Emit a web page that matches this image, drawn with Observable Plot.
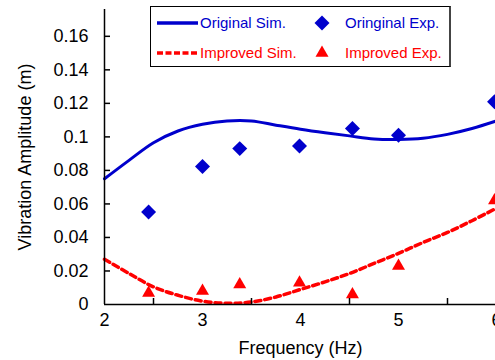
<!DOCTYPE html>
<html>
<head>
<meta charset="utf-8">
<script src="https://cdn.jsdelivr.net/npm/d3@7"></script>
<script src="https://cdn.jsdelivr.net/npm/@observablehq/plot@0.6"></script>
<style>
  html, body { margin: 0; padding: 0; background: #fff; overflow: hidden; }
  #wrap { position: relative; width: 495px; height: 360px; overflow: hidden; }
  #chart svg { max-width: none !important; display: block; }
  #legend { position: absolute; left: 150px; top: 6px; width: 298px; height: 59px;
    border: 1px solid #000; border-right: 2px solid #444; background: #fff; }
</style>
</head>
<body>
<div id="wrap"><div id="chart"></div><div id="legend"></div></div>
<script>
// Simulated curves (sampled along frequency)
const simFreq = [2.0, 2.25, 2.5, 2.75, 3.0, 3.25, 3.5, 3.75, 4.0, 4.25, 4.5, 4.75, 5.0, 5.25, 5.5, 5.75, 6.0];
const originalSim = [0.075, 0.086, 0.0965, 0.1035, 0.1075, 0.1095, 0.1095, 0.107, 0.1046, 0.1025, 0.1006, 0.0988, 0.0985, 0.0992, 0.1015, 0.105, 0.1095];
const improvedSim = [0.027, 0.0185, 0.0105, 0.0055, 0.002, 0.0007, 0.0015, 0.0045, 0.009, 0.0135, 0.0185, 0.0245, 0.0305, 0.037, 0.043, 0.050, 0.0575];
// Experimental points
const expFreq = [2.45, 3.0, 3.38, 3.99, 4.53, 5.0, 5.98];
const originalExp = [0.0552, 0.0823, 0.093, 0.0946, 0.105, 0.101, 0.121];
const improvedExp = [0.0069, 0.008, 0.012, 0.013, 0.006, 0.023, 0.062];
// Axes
const xTickLabels = [2, 3, 4, 5, 6];
const xMinorTicks = [2.5, 3.5, 4.5, 5.5];
const yTicks = [0, 0.02, 0.04, 0.06, 0.08, 0.1, 0.12, 0.14, 0.16];
const seriesNames = ["Original Sim.", "Oringinal Exp.", "Improved Sim.", "Improved Exp."];
const blue = "#0000CC", red = "#FF0000";

const sim = simFreq.map((f, i) => ({f, o: originalSim[i], m: improvedSim[i]}));
const exp = expFreq.map((f, i) => ({f, o: originalExp[i], m: improvedExp[i]}));

const chart = Plot.plot({
  width: 520, height: 360,
  marginLeft: 104, marginRight: 24, marginTop: 9, marginBottom: 56,
  style: {fontFamily: "'Liberation Sans', Arial, sans-serif", fontSize: "18px", color: "#000", background: "transparent", maxWidth: "none"},
  x: {domain: [2, 6]},
  y: {domain: [0, 0.176]},
  marks: [
    Plot.lineY(sim, {x: "f", y: "o", stroke: blue, strokeWidth: 3, curve: "catmull-rom"}),
    Plot.lineY(sim, {x: "f", y: "m", stroke: red, strokeWidth: 3.5, strokeDasharray: "6,4", curve: "catmull-rom"}),
    Plot.dot(exp, {x: "f", y: "o", symbol: "diamond2", r: 6.75, fill: blue, stroke: null}),
    Plot.dot(exp, {x: "f", y: "m", symbol: "triangle2", r: 6.2, fill: red, stroke: null}),
    Plot.ruleX([2], {stroke: "#000", strokeWidth: 1.5}),
    Plot.ruleY([0], {stroke: "#000", strokeWidth: 1.5}),
    Plot.axisY(yTicks.slice(1), {tickSize: -6, tickFormat: () => "", label: null, strokeWidth: 1.5}),
    Plot.axisY(yTicks, {tickSize: 0, tickPadding: 16, tickFormat: d => String(d), label: null}),
    Plot.axisX(xMinorTicks, {tickSize: -6, tickFormat: () => "", label: null, strokeWidth: 1.5}),
    Plot.axisX(xTickLabels, {tickSize: 0, tickPadding: 9, tickFormat: d => String(d), label: null}),
    Plot.text(["Vibration Amplitude (m)"], {frameAnchor: "left", rotate: -90, dx: -79, textAnchor: "middle", lineAnchor: "middle"}),
    Plot.text(["Frequency (Hz)"], {frameAnchor: "bottom", dy: 44, textAnchor: "middle", lineAnchor: "middle"})
  ]
});
document.getElementById("chart").appendChild(chart);

// Legend
const lg = d3.select("#legend").append("svg").attr("width", 298).attr("height", 59)
  .style("font-family", "'Liberation Sans', Arial, sans-serif").style("font-size", "15px");
const rows = [
  {y: 16, color: blue, dash: null, sym: d3.symbolDiamond2, size: Math.PI * 6.75 * 6.75},
  {y: 46, color: red, dash: "6,2.5", sym: d3.symbolTriangle2, size: Math.PI * 6.2 * 6.2}
];
rows.forEach((r, i) => {
  lg.append("line").attr("x1", 6).attr("x2", 47).attr("y1", r.y).attr("y2", r.y)
    .attr("stroke", r.color).attr("stroke-width", 3.5).attr("stroke-dasharray", r.dash);
  lg.append("text").attr("x", 49).attr("y", r.y).attr("dy", "0.35em").attr("fill", r.color).text(seriesNames[i * 2]);
  lg.append("path").attr("transform", `translate(171,${r.y})`).attr("d", d3.symbol(r.sym, r.size)()).attr("fill", r.color);
  lg.append("text").attr("x", 194).attr("y", r.y).attr("dy", "0.35em").attr("fill", r.color).text(seriesNames[i * 2 + 1]);
});
</script>
</body>
</html>
